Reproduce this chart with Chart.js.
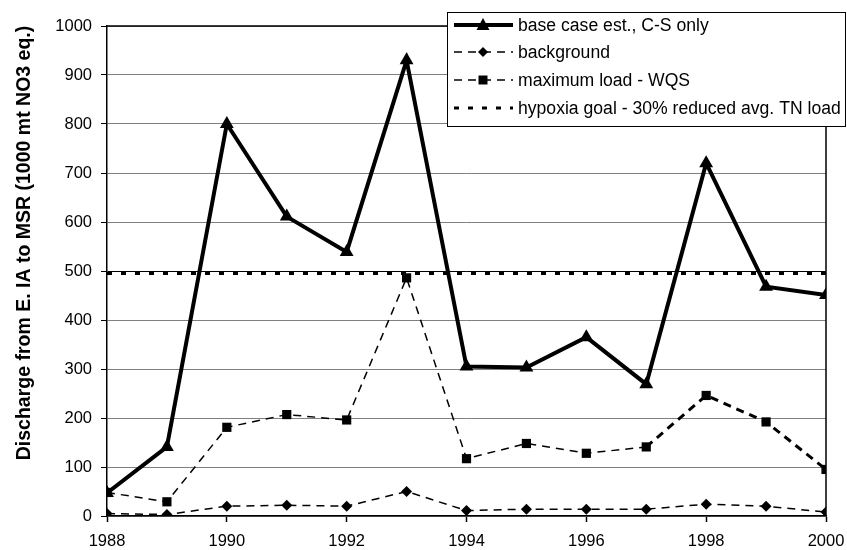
<!DOCTYPE html>
<html>
<head>
<meta charset="utf-8">
<script src="https://cdn.jsdelivr.net/npm/chart.js@4"></script>
<style>
  html, body { margin: 0; padding: 0; background: #fff; }
  #wrap { width: 847px; height: 550px; position: relative; }
</style>
</head>
<body>
<div id="wrap"><canvas id="dischargeChart"></canvas></div>
<script>
// ── Series data (1000 mt NO3 eq.) ─────────────────────────
const YEARS = [1988, 1989, 1990, 1991, 1992, 1993, 1994, 1995, 1996, 1997, 1998, 1999, 2000];
const BASE_CASE = [47, 141, 800, 611, 539, 930, 305, 303, 365, 269, 720, 468, 451];
const BACKGROUND = [5, 3, 20, 22, 20, 50, 11, 14, 14, 14, 24, 20, 8];
const MAX_LOAD = [48, 29, 181, 207, 196, 486, 117, 148, 128, 141, 246, 192, 95];
const HYPOXIA_GOAL = [495, 495, 495, 495, 495, 495, 495, 495, 495, 495, 495, 495, 495];

const SERIES_LABELS = [
  'base case est., C-S only',
  'background',
  'maximum load - WQS',
  'hypoxia goal - 30% reduced avg. TN load',
];
const Y_TITLE = 'Discharge from E. IA to MSR (1000 mt NO3 eq.)';
const Y_TICKS = [0, 100, 200, 300, 400, 500, 600, 700, 800, 900, 1000];
const X_TICKS = [1988, 1990, 1992, 1994, 1996, 1998, 2000];

const FONT = "'Liberation Sans', Arial, sans-serif";
Chart.defaults.font.family = FONT;
Chart.defaults.color = '#000';

const pts = arr => YEARS.map((y, i) => ({ x: y, y: arr[i] }));

// ── Marker shapes for the legend samples ──────────────────
function drawMarker(ctx, kind, x, y) {
  ctx.save();
  ctx.fillStyle = '#000';
  ctx.beginPath();
  if (kind === 'triangle') {
    ctx.moveTo(x, y - 7);
    ctx.lineTo(x + 6.5, y + 5);
    ctx.lineTo(x - 6.5, y + 5);
  } else if (kind === 'diamond') {
    ctx.moveTo(x, y - 5);
    ctx.lineTo(x + 5, y);
    ctx.lineTo(x, y + 5);
    ctx.lineTo(x - 5, y);
  } else if (kind === 'square') {
    ctx.rect(x - 4.5, y - 4.5, 9, 9);
  }
  ctx.closePath();
  ctx.fill();
  ctx.restore();
}

// frame on top/right of the plot area + rotated axis title
const framePlugin = {
  id: 'frame',
  beforeDatasetsDraw(chart) {
    const { ctx, chartArea: a } = chart;
    ctx.save();
    ctx.strokeStyle = '#000';
    ctx.lineWidth = 1.5;
    ctx.beginPath();
    ctx.moveTo(a.left, a.top);
    ctx.lineTo(a.right, a.top);
    ctx.lineTo(a.right, a.bottom);
    ctx.stroke();

    ctx.translate(25, 243);
    ctx.rotate(-Math.PI / 2);
    ctx.font = 'bold 19.5px ' + FONT;
    ctx.fillStyle = '#000';
    ctx.textAlign = 'center';
    ctx.textBaseline = 'middle';
    ctx.fillText(Y_TITLE, 0, 0);
    ctx.restore();
  },
};

// boxed legend sitting over the upper right corner
const boxLegend = {
  id: 'boxLegend',
  afterDraw(chart) {
    const ctx = chart.ctx;
    const box = { x: 447.5, y: 12.5, w: 398, h: 114 };
    ctx.save();
    ctx.fillStyle = '#fff';
    ctx.fillRect(box.x, box.y, box.w, box.h);
    ctx.strokeStyle = '#000';
    ctx.lineWidth = 1;
    ctx.strokeRect(box.x, box.y, box.w, box.h);

    const rows = [
      { y: 25, width: 4, dash: [], marker: 'triangle' },
      { y: 52, width: 1.5, dash: [8, 6], marker: 'diamond' },
      { y: 80, width: 1.5, dash: [8, 6], marker: 'square' },
      { y: 108, width: 3, dash: [5, 9], marker: null },
    ];
    rows.forEach((r, i) => {
      ctx.strokeStyle = '#000';
      ctx.lineWidth = r.width;
      ctx.setLineDash(r.dash);
      ctx.beginPath();
      ctx.moveTo(r.marker ? 483 : 454, r.y);
      ctx.lineTo(513, r.y);
      if (r.marker) { ctx.moveTo(454, r.y); ctx.lineTo(483, r.y); }
      ctx.stroke();
      ctx.setLineDash([]);
      if (r.marker) drawMarker(ctx, r.marker, 483, r.y);
      ctx.fillStyle = '#000';
      ctx.font = '17.6px ' + FONT;
      ctx.textBaseline = 'middle';
      ctx.fillText(SERIES_LABELS[i], 518, r.y + 1);
    });
    ctx.restore();
  },
};

const lineBase = {
  borderColor: '#000',
  backgroundColor: '#000',
  fill: false,
  tension: 0,
  pointBorderWidth: 0,
};

new Chart(document.getElementById('dischargeChart'), {
  type: 'line',
  data: {
    datasets: [
      {
        ...lineBase,
        label: SERIES_LABELS[0],
        data: pts(BASE_CASE),
        borderWidth: 4,
        pointStyle: 'triangle',
        pointRadius: 8,
      },
      {
        ...lineBase,
        label: SERIES_LABELS[1],
        data: pts(BACKGROUND),
        borderWidth: 1.5,
        borderDash: [8, 6],
        pointStyle: 'rectRot',
        pointRadius: 5.5,
      },
      {
        ...lineBase,
        label: SERIES_LABELS[2],
        data: pts(MAX_LOAD),
        borderWidth: 1.5,
        borderDash: [8, 6],
        pointStyle: 'rect',
        pointRadius: 6.5,
        // last stretch of the WQS line is drawn heavier
        segment: { borderWidth: c => (c.p0DataIndex >= 9 ? 3 : 1.5) },
      },
      {
        ...lineBase,
        label: SERIES_LABELS[3],
        data: pts(HYPOXIA_GOAL),
        borderWidth: 3,
        borderDash: [5, 9],
        pointRadius: 0,
      },
    ],
  },
  options: {
    responsive: true,
    maintainAspectRatio: false,
    animation: false,
    events: [],
    layout: { padding: { left: 0, top: 26, right: 21, bottom: 0 } },
    plugins: { legend: { display: false }, tooltip: { enabled: false } },
    scales: {
      x: {
        type: 'linear',
        min: 1988,
        max: 2000,
        afterBuildTicks: s => { s.ticks = X_TICKS.map(v => ({ value: v })); },
        afterFit: s => { s.height = 34; s.paddingLeft = 0; s.paddingRight = 0; },
        ticks: { font: { size: 16.5 }, padding: 10, maxRotation: 0, callback: v => String(v) },
        grid: { drawOnChartArea: false, tickLength: 6, tickColor: '#000', tickWidth: 1.5 },
        border: { color: '#000', width: 1.5 },
      },
      y: {
        min: 0,
        max: 1000,
        afterBuildTicks: s => { s.ticks = Y_TICKS.map(v => ({ value: v })); },
        afterFit: s => { s.width = 107; s.paddingTop = 0; s.paddingBottom = 0; },
        ticks: { font: { size: 16.5 }, padding: 9, callback: v => String(v) },
        grid: {
          color: c => (c.tick && c.tick.value === 500 ? '#000' : '#808080'),
          lineWidth: 1,
          tickLength: 6,
          tickColor: '#000',
        },
        border: { color: '#000', width: 1.5 },
      },
    },
  },
  plugins: [framePlugin, boxLegend],
});
</script>
</body>
</html>
